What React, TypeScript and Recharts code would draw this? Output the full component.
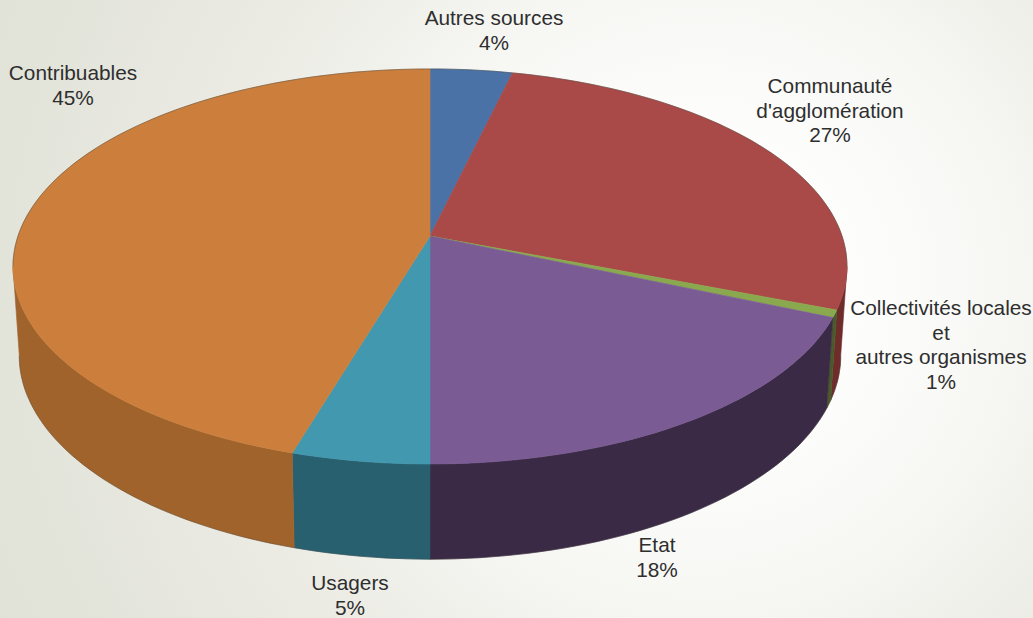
import { PieChart, Pie, Cell } from "recharts";

const categories = [
  "Autres sources",
  "Communauté\nd'agglomération",
  "Collectivités locales\net\nautres organismes",
  "Etat",
  "Usagers",
  "Contribuables",
];
// slice sizes as measured on the disc, the printed labels are rounded
const shares = [3.7, 27.2, 0.6, 18.5, 4.6, 45.4];
const printedPercents = [4, 27, 1, 18, 5, 45];
const topColors = ["#4a72a6", "#aa4a48", "#8aa94f", "#7a5b94", "#4298ae", "#cc7f3c"];
const wallColors = ["#2c4566", "#6e2c2a", "#4a5a2a", "#3a2a45", "#28606f", "#a0632b"];

const data = categories.map((name, i) => ({ name, value: shares[i], printed: printedPercents[i] }));

// centre and baseline of the first text line, per slice
const labelSpots: Record<string, [number, number]> = {
  "Autres sources": [494, 25],
  "Communauté\nd'agglomération": [830, 93],
  "Collectivités locales\net\nautres organismes": [941, 315],
  Etat: [657, 552],
  Usagers: [350, 590],
  Contribuables: [73, 80],
};

const PERSPECTIVE = 0.1544;
const SQUASH = 0.468;
const WALL_DROP = 88;
const WALL_SHRINK = 0.985;
const WALL_SQUASH = 0.49;
const RIGHT_EDGE = 98.9;
const LEFT_EDGE = 261.1;

// recharts angle (ccw from east) to a point on the tilted disc
function project(cx: number, cy: number, r: number, squash: number, deg: number) {
  const rad = (deg * Math.PI) / 180;
  const u = Math.cos(rad);
  const v = Math.sin(rad);
  const w = 1 + PERSPECTIVE * v;
  return [cx + (r * u) / w, cy - (r * squash * v) / w];
}

function arcPoints(cx: number, cy: number, r: number, squash: number, from: number, to: number) {
  const steps = Math.max(2, Math.ceil(Math.abs(to - from) / 1.5));
  const pts: number[][] = [];
  for (let i = 0; i <= steps; i++) {
    pts.push(project(cx, cy, r, squash, from + ((to - from) * i) / steps));
  }
  return pts;
}

const toPath = (pts: number[][]) =>
  pts.map((p, i) => `${i ? "L" : "M"}${p[0].toFixed(1)} ${p[1].toFixed(1)}`).join(" ");

function TopSlice(props: any) {
  const { cx, cy, outerRadius, startAngle, endAngle, fill } = props;
  const rim = arcPoints(cx, cy, outerRadius, SQUASH, startAngle, endAngle);
  const s = 90 - startAngle;
  const e = 90 - endAngle;
  // thin dark rim, only on the far side of the disc
  const farRight = s < RIGHT_EDGE ? arcPoints(cx, cy, outerRadius, SQUASH, 90 - s, 90 - Math.min(e, RIGHT_EDGE)) : null;
  const farLeft = e > LEFT_EDGE ? arcPoints(cx, cy, outerRadius, SQUASH, 90 - Math.max(s, LEFT_EDGE), 90 - e) : null;
  return (
    <g>
      <path d={`${toPath([[cx, cy], ...rim])} Z`} fill={fill} stroke={fill} strokeWidth={0.6} />
      {farRight && <path d={toPath(farRight)} fill="none" stroke="#4a4a42" strokeWidth={0.8} strokeOpacity={0.6} />}
      {farLeft && <path d={toPath(farLeft)} fill="none" stroke="#4a4a42" strokeWidth={0.8} strokeOpacity={0.6} />}
    </g>
  );
}

function WallSlice(props: any) {
  const { cx, cy, outerRadius, startAngle, endAngle, fill } = props;
  // clockwise degrees from 12 o'clock, only the front part of the rim is seen
  const a = Math.max(90 - startAngle, RIGHT_EDGE);
  const b = Math.min(90 - endAngle, LEFT_EDGE);
  if (b <= a) return null;
  const upper = arcPoints(cx, cy, outerRadius, SQUASH, 90 - a, 90 - b);
  const lower = arcPoints(cx, cy + WALL_DROP, outerRadius * WALL_SHRINK, WALL_SQUASH, 90 - b, 90 - a);
  return (
    <g>
      <path d={`${toPath([...upper, ...lower])} Z`} fill={fill} stroke={fill} strokeWidth={0.6} />
      <path d={toPath(lower)} fill="none" stroke="#3c3c36" strokeWidth={0.7} strokeOpacity={0.45} />
    </g>
  );
}

function sliceLabel(props: any) {
  const name: string = props.name ?? props.payload?.name;
  const spot = labelSpots[name];
  if (!spot) return null;
  const lines = [...name.split("\n"), `${props.printed ?? props.payload?.printed}%`];
  return (
    <text x={spot[0]} y={spot[1]} textAnchor="middle" fontFamily="Liberation Sans" fontSize={20.8} fill="#2e2e2e">
      {lines.map((line, i) => (
        <tspan key={i} x={spot[0]} dy={i ? 24.6 : 0}>
          {line}
        </tspan>
      ))}
    </text>
  );
}

export default function App() {
  return (
    <div
      style={{
        position: "absolute",
        left: 0,
        top: 0,
        width: 1033,
        height: 618,
        overflow: "hidden",
        background:
          "radial-gradient(circle at 700px 290px, #ffffff 110px, #f7f7f4 300px, #ecece5 480px, #e2e3d9 700px, #e0e1d7 800px)",
      }}
    >
      <PieChart width={1033} height={618} margin={{ top: 0, right: 0, bottom: 0, left: 0 }}>
        <Pie
          data={data}
          dataKey="value"
          nameKey="name"
          cx={430}
          cy={236}
          outerRadius={412}
          startAngle={90}
          endAngle={-270}
          stroke="none"
          shape={WallSlice}
          isAnimationActive={false}
        >
          {data.map((d, i) => (
            <Cell key={d.name} fill={wallColors[i]} />
          ))}
        </Pie>
        <Pie
          data={data}
          dataKey="value"
          nameKey="name"
          cx={430}
          cy={236}
          outerRadius={412}
          startAngle={90}
          endAngle={-270}
          stroke="none"
          shape={TopSlice}
          label={sliceLabel}
          labelLine={false}
          isAnimationActive={false}
        >
          {data.map((d, i) => (
            <Cell key={d.name} fill={topColors[i]} />
          ))}
        </Pie>
      </PieChart>
    </div>
  );
}
